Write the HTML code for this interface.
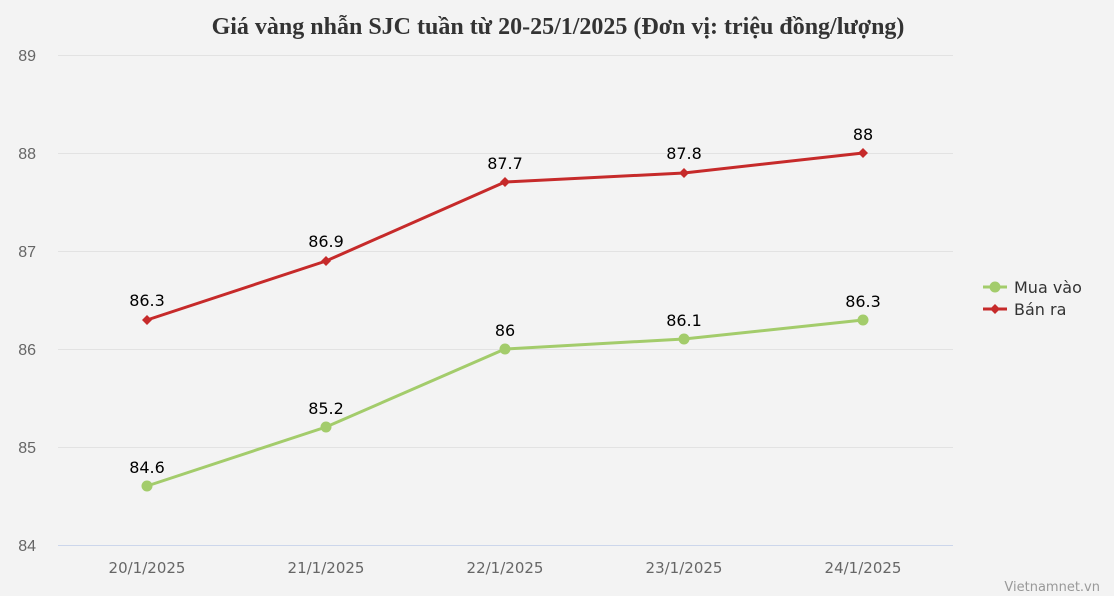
<!DOCTYPE html>
<html><head><meta charset="utf-8"><style>
body{margin:0;background:#f3f3f3;}
svg{display:block;}
</style></head><body>
<svg width="1114" height="596" xmlns="http://www.w3.org/2000/svg">
<rect width="1114" height="596" fill="#f3f3f3"/>
<text x="558" y="34" text-anchor="middle" font-family="Liberation Serif, serif" font-weight="bold" font-size="24" fill="#333">Giá vàng nhẫn SJC tuần từ 20-25/1/2025 (Đơn vị: triệu đồng/lượng)</text>
<g stroke="#e2e2e2" stroke-width="1">
<line x1="58" x2="953" y1="55.5" y2="55.5"/>
<line x1="58" x2="953" y1="153.5" y2="153.5"/>
<line x1="58" x2="953" y1="251.5" y2="251.5"/>
<line x1="58" x2="953" y1="349.5" y2="349.5"/>
<line x1="58" x2="953" y1="447.5" y2="447.5"/>
</g>
<line x1="58" x2="953" y1="545.5" y2="545.5" stroke="#ccd6eb"/>
<g font-family="Liberation Sans, sans-serif" font-size="16" fill="#666" text-anchor="end">
<text x="36" y="61">89</text><text x="36" y="159">88</text><text x="36" y="257">87</text>
<text x="36" y="355">86</text><text x="36" y="453">85</text><text x="36" y="551">84</text>
</g>
<g font-family="DejaVu Sans, sans-serif" font-size="15" fill="#666" text-anchor="middle">
<text x="147" y="573">20/1/2025</text><text x="326" y="573">21/1/2025</text><text x="505" y="573">22/1/2025</text>
<text x="684" y="573">23/1/2025</text><text x="863" y="573">24/1/2025</text>
</g>
<polyline points="147,486 326,427 505,349 684,339 863,320" fill="none" stroke="#a3cc6b" stroke-width="3"/>
<polyline points="147,320 326,261 505,182 684,173 863,153" fill="none" stroke="#c62a2a" stroke-width="3"/>
<g fill="#a3cc6b">
<circle cx="147" cy="486" r="5.5"/><circle cx="326" cy="427" r="5.5"/><circle cx="505" cy="349" r="5.5"/><circle cx="684" cy="339" r="5.5"/><circle cx="863" cy="320" r="5.5"/>
</g>
<g fill="#c62a2a">
<path d="M147 315l5 5-5 5-5-5z"/><path d="M326 256l5 5-5 5-5-5z"/><path d="M505 177l5 5-5 5-5-5z"/><path d="M684 168l5 5-5 5-5-5z"/><path d="M863 148l5 5-5 5-5-5z"/>
</g>
<g font-family="DejaVu Sans, sans-serif" font-size="16" fill="#000" text-anchor="middle">
<text x="147" y="306">86.3</text><text x="326" y="247">86.9</text><text x="505" y="169">87.7</text><text x="684" y="159">87.8</text><text x="863" y="140">88</text>
<text x="147" y="473">84.6</text><text x="326" y="414">85.2</text><text x="505" y="336">86</text><text x="684" y="326">86.1</text><text x="863" y="307">86.3</text>
</g>
<line x1="983" x2="1007" y1="287" y2="287" stroke="#a3cc6b" stroke-width="3"/>
<circle cx="995" cy="287" r="5.5" fill="#a3cc6b"/>
<line x1="983" x2="1007" y1="309" y2="309" stroke="#c62a2a" stroke-width="3"/>
<path d="M995 304l5 5-5 5-5-5z" fill="#c62a2a"/>
<g font-family="DejaVu Sans, sans-serif" font-size="16" fill="#333">
<text x="1014" y="293">Mua vào</text><text x="1014" y="315">Bán ra</text>
</g>
<text x="1100" y="591" text-anchor="end" font-family="DejaVu Sans, sans-serif" font-size="13" fill="#999">Vietnamnet.vn</text>
</svg>
</body></html>
